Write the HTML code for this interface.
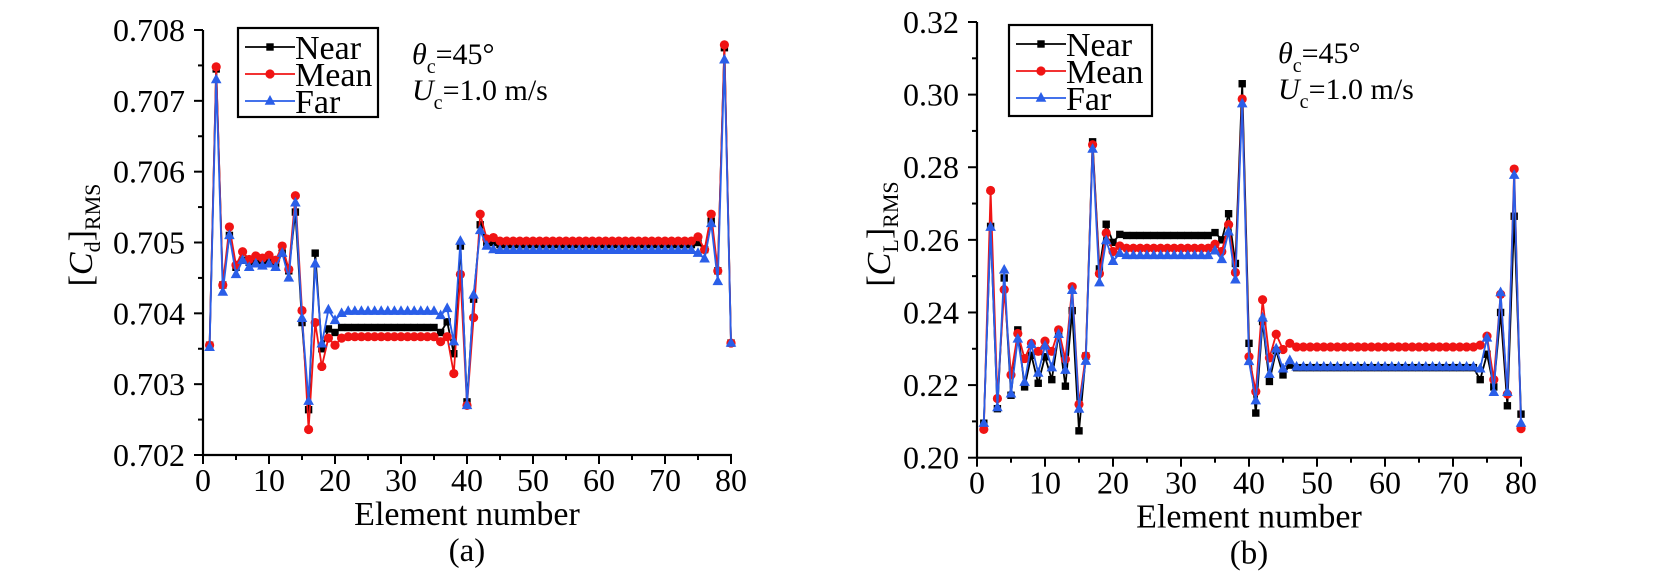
<!DOCTYPE html>
<html><head><meta charset="utf-8"><style>
html,body{margin:0;padding:0;background:#fff;}
svg{display:block;font-family:"Liberation Serif",serif;}
</style></head><body>
<svg id="s" width="1654" height="571" xmlns="http://www.w3.org/2000/svg"></svg>
<script>
const S=document.getElementById('s');let h='';
function rep(a,n,v){for(let i=0;i<n;i++)a.push(v);}
let LN=[0.70355,0.70745,0.7044,0.7051,0.70465,0.70475,0.70472,0.70475,0.70472,0.70475,0.7047,0.70485,0.7046,0.70543,0.70387,0.70264,0.70485,0.7035,0.70378,0.70373,0.7038];
rep(LN,14,0.7038);LN.push(0.70373,0.70388,0.70343,0.70495,0.70275,0.7042,0.70525,0.705,0.705);rep(LN,30,0.70497);LN.push(0.705,0.7049,0.7053,0.7046,0.70775,0.70358);
let LM=[0.70355,0.70748,0.7044,0.70522,0.70468,0.70487,0.70476,0.70481,0.70478,0.70482,0.70475,0.70495,0.70462,0.70566,0.70404,0.70236,0.70387,0.70325,0.70365,0.70355,0.70365];
rep(LM,14,0.70367);LM.push(0.7036,0.70367,0.70315,0.70455,0.7027,0.70394,0.7054,0.70505,0.70507);rep(LM,30,0.70502);LM.push(0.70508,0.7049,0.7054,0.7046,0.70779,0.70358);
let LF=[0.70352,0.7073,0.7043,0.7051,0.70455,0.70475,0.70465,0.7047,0.70467,0.7047,0.70465,0.70485,0.7045,0.70556,0.70393,0.70276,0.7047,0.70357,0.70405,0.7039,0.704];
rep(LF,14,0.70403);LF.push(0.70397,0.70407,0.7036,0.70502,0.7027,0.70426,0.70517,0.70495,0.7049);rep(LF,30,0.70489);LF.push(0.70485,0.70477,0.70527,0.70445,0.70758,0.70358);
let RN=[0.2095,0.2637,0.2135,0.2495,0.2172,0.2352,0.2195,0.2282,0.2205,0.2278,0.2215,0.2340,0.2197,0.2405,0.2074,0.2280,0.2870,0.2520,0.2643,0.2593,0.2615];
rep(RN,13,0.2612);RN.push(0.2620,0.2600,0.2672,0.2535,0.3030,0.2315,0.2123,0.2375,0.2210,0.2295,0.2228,0.2255);rep(RN,27,0.2248);RN.push(0.2215,0.2285,0.2195,0.2400,0.2143,0.2665,0.2120);
let RM=[0.2078,0.2736,0.2163,0.2463,0.2228,0.2342,0.2273,0.2315,0.2293,0.2321,0.2293,0.2352,0.2271,0.2471,0.2147,0.2280,0.2862,0.2507,0.2619,0.2568,0.2583];
rep(RM,13,0.2577);RM.push(0.2588,0.2568,0.2642,0.2510,0.2988,0.2278,0.2182,0.2435,0.2275,0.2340,0.2298,0.2315);rep(RM,27,0.2305);RM.push(0.2310,0.2335,0.2215,0.2450,0.2175,0.2795,0.2080);
let RF=[0.2095,0.2635,0.2138,0.2517,0.2176,0.2327,0.2208,0.2312,0.2233,0.2308,0.2248,0.2340,0.2241,0.2461,0.2134,0.2266,0.2850,0.2482,0.2598,0.2541,0.2563];
rep(RF,13,0.2557);RF.push(0.2570,0.2546,0.2622,0.2490,0.2975,0.2265,0.2157,0.2385,0.2230,0.2300,0.2245,0.2268);rep(RF,27,0.2250);RF.push(0.2245,0.2330,0.2180,0.2455,0.2180,0.2778,0.2095);

function plot(P){
 const X=v=>P.x0+(v)*(P.x1-P.x0)/80, Y=v=>P.yb-(v-P.ymin)*(P.yb-P.yt)/(P.ymax-P.ymin);
 h+=`<line x1="${P.x0}" y1="${P.yt}" x2="${P.x0}" y2="${P.yb+1}" stroke="#000" stroke-width="2.2"/>`;
 h+=`<line x1="${P.x0-1}" y1="${P.yb}" x2="${P.x1+1}" y2="${P.yb}" stroke="#000" stroke-width="2.2"/>`;
 for(let i=0;i<=16;i++){const x=X(i*5);const L=i%2?5:9;h+=`<line x1="${x}" y1="${P.yb}" x2="${x}" y2="${P.yb+L}" stroke="#000" stroke-width="2"/>`;
  if(i%2==0)h+=`<text x="${x}" y="${P.yb+36}" font-size="32" text-anchor="middle">${i*5}</text>`;}
 for(let i=0;i<=12;i++){const v=P.ymin+i*(P.ymax-P.ymin)/12;const y=Y(v);const L=i%2?5:9;h+=`<line x1="${P.x0}" y1="${y}" x2="${P.x0-L}" y2="${y}" stroke="#000" stroke-width="2"/>`;
  if(i%2==0)h+=`<text x="${P.x0-18}" y="${y+11}" font-size="32" text-anchor="end">${v.toFixed(P.dec)}</text>`;}
 h+=`<text x="${(P.x0+P.x1)/2}" y="${P.yb+70}" font-size="34" text-anchor="middle">Element number</text>`;
 h+=`<text x="${(P.x0+P.x1)/2}" y="${P.yb+106}" font-size="33" text-anchor="middle">${P.tag}</text>`;
 h+=`<text transform="translate(${P.ylx},${P.ylc}) rotate(-90)" font-size="34" text-anchor="middle">[<tspan font-style="italic">C</tspan><tspan font-size="22" dy="8">${P.sub}</tspan><tspan dy="-8">]</tspan><tspan font-size="22" dy="8">RMS</tspan></text>`;
 const ser=[[P.N,'#000','sq'],[P.M,'#f01414','ci'],[P.F,'#2a5ee8','tr']];
 for(const [d,c,m] of ser){let pts=d.map((v,i)=>X(i+1).toFixed(1)+','+Y(v).toFixed(1)).join(' ');
  h+=`<polyline points="${pts}" fill="none" stroke="${c}" stroke-width="1.8"/>`;
  d.forEach((v,i)=>{h+=mk(m,X(i+1),Y(v),c);});}
 const lb=P.leg;h+=`<rect x="${lb.x}" y="${lb.y}" width="${lb.w}" height="${lb.h}" fill="#fff" stroke="#000" stroke-width="2.2"/>`;
 const names=['Near','Mean','Far'];
 ser.forEach((s,k)=>{const y=lb.y+19+k*27;h+=`<line x1="${lb.x+7}" y1="${y}" x2="${lb.x+57}" y2="${y}" stroke="${s[1]}" stroke-width="1.8"/>`+mk(s[2],lb.x+32,y,s[1]);
  h+=`<text x="${lb.x+57}" y="${y+12}" font-size="34">${names[k]}</text>`;});
 h+=`<text x="${P.ax}" y="${P.ay}" font-size="30"><tspan font-style="italic">θ</tspan><tspan font-size="20" dy="9">c</tspan><tspan dy="-9">=45°</tspan></text>`;
 h+=`<text x="${P.ax}" y="${P.ay+36}" font-size="30"><tspan font-style="italic">U</tspan><tspan font-size="20" dy="9">c</tspan><tspan dy="-9">=1.0 m/s</tspan></text>`;
}
function mk(m,x,y,c){
 if(m=='sq')return `<rect x="${x-3.7}" y="${y-3.7}" width="7.4" height="7.4" fill="${c}"/>`;
 if(m=='ci')return `<circle cx="${x}" cy="${y}" r="4.6" fill="${c}"/>`;
 return `<polygon points="${x},${y-6} ${x+5.3},${y+3.7} ${x-5.3},${y+3.7}" fill="${c}"/>`;
}
plot({x0:203,x1:731,yt:30,yb:455,ymin:0.702,ymax:0.708,dec:3,tag:'(a)',sub:'d',ylx:92,ylc:235,N:LN,M:LM,F:LF,
 leg:{x:238,y:28,w:140,h:89},ax:412,ay:64});
plot({x0:977,x1:1521,yt:22,yb:457.7,ymin:0.20,ymax:0.32,dec:2,tag:'(b)',sub:'L',ylx:890,ylc:234,N:RN,M:RM,F:RF,
 leg:{x:1009,y:25,w:143,h:91},ax:1278,ay:63});
S.innerHTML=h;
</script>
</body></html>
